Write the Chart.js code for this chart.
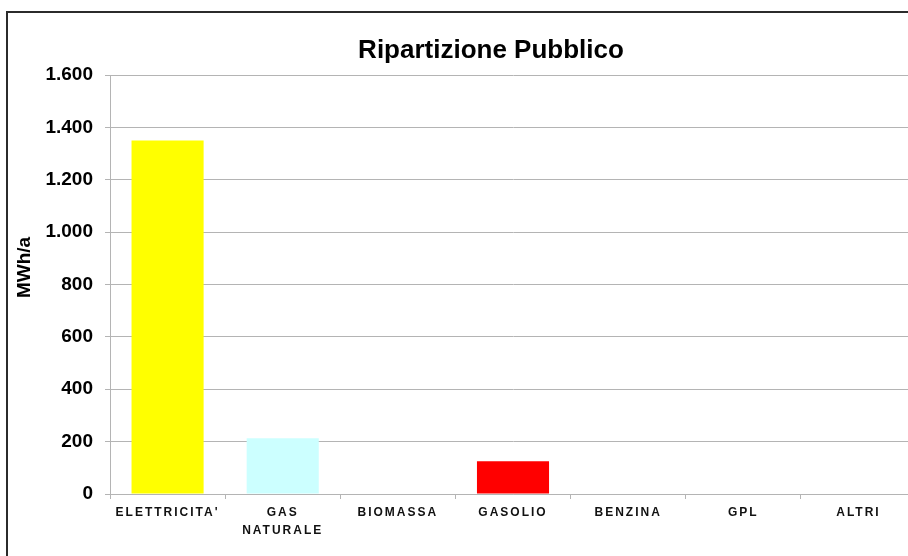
<!DOCTYPE html>
<html>
<head>
<meta charset="utf-8">
<script src="https://cdn.jsdelivr.net/npm/chart.js@4"></script>
<style>
    html, body { margin: 0; padding: 0; width: 908px; height: 556px; overflow: hidden; background: #fff; }
    #frame {
        position: absolute; left: 6px; top: 11px;
        width: 980px; height: 600px;
        border: 2px solid #2b2b2b;
        box-sizing: border-box;
    }
    #chart { position: absolute; left: 8px; top: 13px; }
</style>
</head>
<body>
<div id="frame"></div>
<canvas id="chart" width="908" height="560"></canvas>
<script>
// Chart data
const categories = ["ELETTRICITA'", ['GAS', 'NATURALE'], 'BIOMASSA', 'GASOLIO', 'BENZINA', 'GPL', 'ALTRI'];
const consumi = [1350, 213, 0, 125, 0, 0, 0];
const barColors = ['#FFFF00', '#CCFFFF', '#996633', '#FF0000', '#808080', '#3366FF', '#993366'];
const yMax = 1600;
const yStep = 200;

const chartTitle = 'Ripartizione Pubblico';
const yTitle = 'MWh/a';

const fontFamily = "'Liberation Sans', Arial, sans-serif";

// thousand separator with a dot, like the original
function formatNumber(v) {
    return String(v).replace(/\B(?=(\d{3})+(?!\d))/g, '.');
}

// spaced out category labels (x ticks are drawn after the datasets, ticks.z = 1)
const letterSpacingPlugin = {
    id: 'letterSpacing',
    afterDatasetsDraw(chart) {
        chart.ctx.letterSpacing = '2px';
    },
    afterDraw(chart) {
        chart.ctx.letterSpacing = '0px';
    }
};

// title centred on the whole frame, y title a bit above the middle of the plot
const titlesPlugin = {
    id: 'titles',
    afterDraw(chart) {
        const ctx = chart.ctx;
        const area = chart.chartArea;
        ctx.save();
        ctx.fillStyle = '#000';
        ctx.textAlign = 'center';
        ctx.textBaseline = 'middle';

        ctx.font = 'bold 26px ' + fontFamily;
        ctx.fillText(chartTitle, chart.width / 2 + 29, 38);

        ctx.translate(area.left - 85, (area.top + area.bottom) / 2 - 17);
        ctx.rotate(-Math.PI / 2);
        ctx.font = 'bold 19px ' + fontFamily;
        ctx.fillText(yTitle, 0, 0);
        ctx.restore();
    }
};

const ctx = document.getElementById('chart');
new Chart(ctx, {
    type: 'bar',
    data: {
        labels: categories,
        datasets: [{
            data: consumi,
            backgroundColor: barColors,
            borderWidth: 0,
            barPercentage: 0.626,
            categoryPercentage: 1
        }]
    },
    options: {
        responsive: false,
        animation: false,
        layout: {
            padding: { left: 0, right: 0, top: 62, bottom: 0 }
        },
        plugins: {
            legend: { display: false },
            tooltip: { enabled: false },
            title: { display: false }
        },
        scales: {
            x: {
                afterFit: (scale) => { scale.height = 79; },
                grid: {
                    display: true,
                    drawOnChartArea: false,
                    offset: true,
                    color: '#b4b4b4',
                    tickLength: 5
                },
                border: { color: '#b4b4b4' },
                ticks: {
                    z: 1,
                    color: '#111',
                    padding: 5,
                    maxRotation: 0,
                    autoSkip: false,
                    font: { family: fontFamily, size: 12, weight: 'bold', lineHeight: 1.475 }
                }
            },
            y: {
                min: 0,
                max: yMax,
                afterFit: (scale) => { scale.width = 102; },
                grid: {
                    color: '#b4b4b4',
                    tickLength: 5
                },
                border: { color: '#b4b4b4' },
                ticks: {
                    stepSize: yStep,
                    color: '#000',
                    padding: 12,
                    font: { family: fontFamily, size: 19, weight: 'bold' },
                    callback: (v) => formatNumber(v)
                }
            }
        }
    },
    plugins: [letterSpacingPlugin, titlesPlugin]
});
</script>
</body>
</html>
